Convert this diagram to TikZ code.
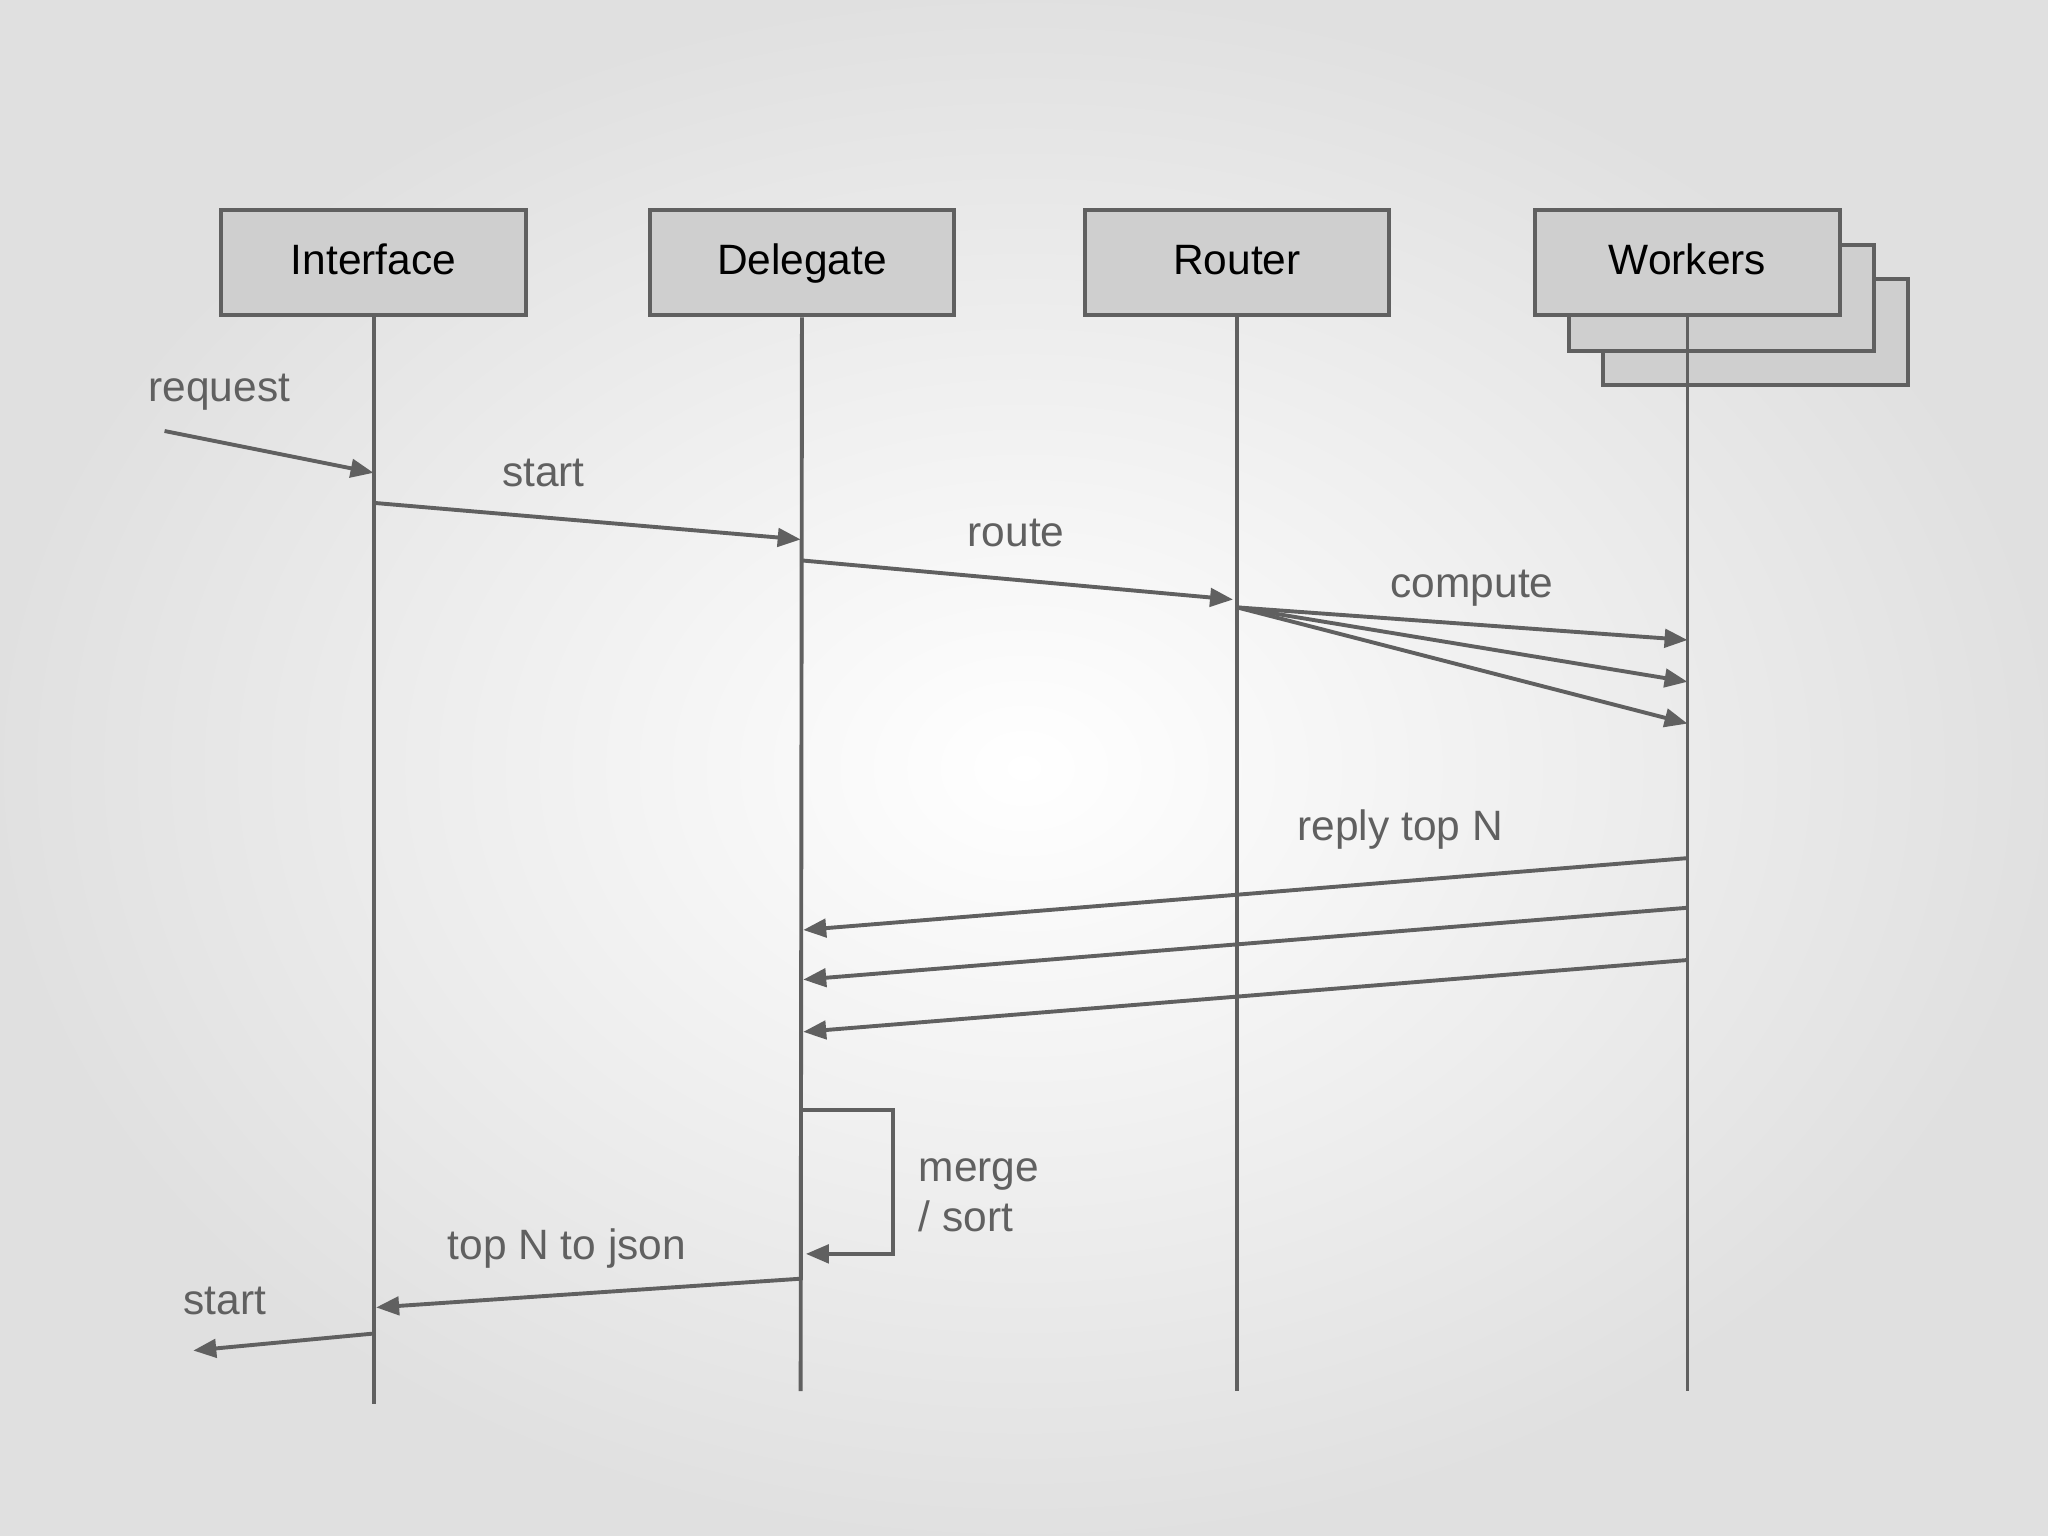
\documentclass[tikz,border=0pt]{standalone}
\usepackage{fontspec}
\setmainfont{Liberation Sans}
\usetikzlibrary{arrows.meta}
\definecolor{ln}{HTML}{606060}
\definecolor{bx}{HTML}{CFCFCF}
\definecolor{lb}{HTML}{606060}
\begin{document}
\begin{tikzpicture}[x=0.02cm,y=-0.02cm,
  box/.style={draw=ln,fill=bx,line width=1.7pt,minimum width=4.66cm,minimum height=1.62cm,inner sep=0,text height=13pt,text depth=3pt,font=\fontsize{18.5}{22}\selectfont},
  life/.style={draw=ln,line width=1.7pt},
  msg/.style={draw=ln,line width=1.7pt,-{Triangle[length=10pt,width=8pt]}},
  lbl/.style={text=lb,font=\fontsize{18.5}{22}\selectfont,inner sep=0}]
\useasboundingbox (0,0) rectangle (1568,1176);
\shade[inner color=white,outer color=black!12] (0,0) rectangle (1568,1176);
\node[box] (w3) at (1344,254) {};
\node[box] (w2) at (1318,228) {};
\node[box] (i) at (286,201) {Interface};
\node[box] (d) at (614,201) {Delegate};
\node[box] (r) at (947,201) {Router};
\node[box] (w) at (1292,201) {Workers};
\coordinate (ie) at (286,1075);
\coordinate (de) at (613,1065);
\coordinate (re) at (947,1065);
\coordinate (we) at (1292,1065);
\draw[life] (i.south) -- (ie);
\draw[life] (d.south) -- (de);
\draw[life] (r.south) -- (re);
\draw[life] (w.south) -- (we);
\coordinate (rq0) at (126,330); \coordinate (rq1) at (286,362);
\draw[msg] (rq0) -- (rq1);
\node[lbl] (lrq) at (168,300) {request};
\coordinate (s0) at (286,385); \coordinate (s1) at (613,413);
\draw[msg] (s0) -- (s1);
\node[lbl] (ls) at (416,362) {start};
\coordinate (ro0) at (613,429); \coordinate (ro1) at (944,459);
\draw[msg] (ro0) -- (ro1);
\node[lbl] (lro) at (778,408) {route};
\coordinate (c0) at (947,465);
\coordinate (c1) at (1292,490); \coordinate (c2) at (1292,522); \coordinate (c3) at (1292,554);
\draw[msg] (c0) -- (c1);
\draw[msg] (c0) -- (c2);
\draw[msg] (c0) -- (c3);
\node[lbl] (lc) at (1127,450) {compute};
\coordinate (p0) at (1292,657); \coordinate (p1) at (615,712);
\coordinate (q0) at (1292,695); \coordinate (q1) at (615,750);
\coordinate (t0) at (1292,735); \coordinate (t1) at (615,790);
\draw[msg] (p0) -- (p1);
\draw[msg] (q0) -- (q1);
\draw[msg] (t0) -- (t1);
\node[lbl] (lp) at (1072,635) {reply top N};
\coordinate (m0) at (613,850); \coordinate (m1) at (684,850);
\coordinate (m2) at (684,960); \coordinate (m3) at (617,960);
\draw[msg] (m0) -- (m1) -- (m2) -- (m3);
\node[lbl,anchor=west,align=left] (lm) at (703,915) {merge\\/ sort};
\coordinate (j0) at (613,979); \coordinate (j1) at (288,1001);
\draw[msg] (j0) -- (j1);
\node[lbl] (lj) at (434,956) {top N to json};
\coordinate (e0) at (286,1021); \coordinate (e1) at (148,1034);
\draw[msg] (e0) -- (e1);
\node[lbl] (le) at (172,996) {start};
\end{tikzpicture}
\end{document}
